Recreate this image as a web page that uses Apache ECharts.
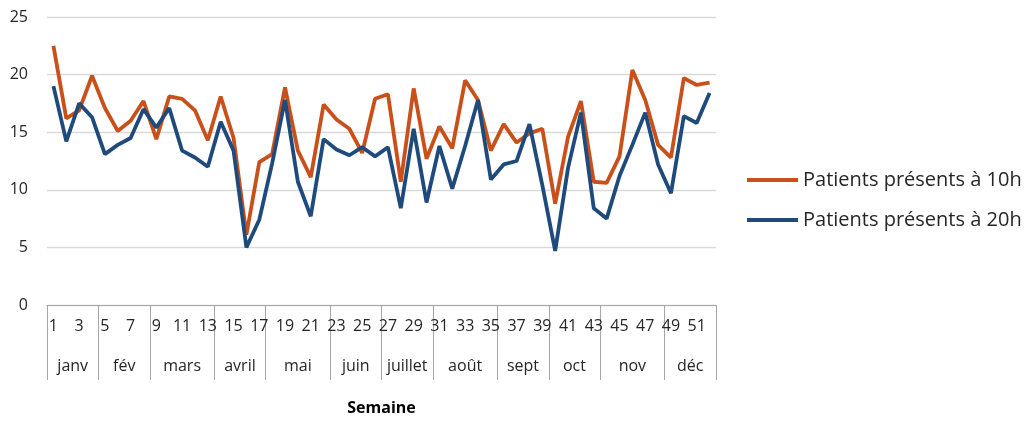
<!DOCTYPE html>
<html>
<head>
<meta charset="utf-8">
<script src="https://cdn.jsdelivr.net/npm/echarts@6/dist/echarts.min.js"></script>
<style>
  html, body { margin: 0; padding: 0; background: #ffffff; }
  #chart { width: 1030px; height: 421px; }
</style>
</head>
<body>
<div id="chart"></div>
<script>
// Week numbers 1..52
const weeks = ["1","2","3","4","5","6","7","8","9","10","11","12","13","14","15","16","17","18","19","20","21","22","23","24","25","26","27","28","29","30","31","32","33","34","35","36","37","38","39","40","41","42","43","44","45","46","47","48","49","50","51","52"];
// Month groups: names and number of weeks in each
const months = ["janv","fév","mars","avril","mai","juin","juillet","août","sept","oct","nov","déc"];
const monthWeekCounts = [4,4,5,4,5,4,4,5,4,4,5,4];
// Series values
const patients10h = [22.5,16.2,16.9,19.9,17.1,15.1,16.0,17.7,14.4,18.1,
  17.9,16.9,14.3,18.1,14.5,6.1,12.4,13.1,18.9,13.4,
  11.1,17.4,16.1,15.3,13.2,17.9,18.3,10.7,18.8,12.7,
  15.5,13.6,19.5,17.8,13.4,15.7,14.1,14.9,15.3,8.8,
  14.6,17.7,10.7,10.6,12.9,20.4,17.8,13.9,12.8,19.7,
  19.1,19.3];
const patients20h = [19.0,14.2,17.5,16.3,13.1,13.9,14.5,17.0,15.4,17.1,
  13.4,12.8,12.0,15.9,13.4,5.0,7.4,12.3,17.8,10.7,
  7.7,14.4,13.5,13.0,13.7,12.9,13.7,8.4,15.3,8.9,
  13.8,10.1,13.8,17.8,10.9,12.2,12.5,15.7,10.4,4.7,
  11.9,16.7,8.4,7.5,11.2,13.9,16.7,12.2,9.7,16.4,
  15.8,18.4];
const seriesNames = ["Patients présents à 10h","Patients présents à 20h"];
const xAxisTitle = "Semaine";

// Build group boundaries and midpoints from month week counts
const boundaries = [0];
monthWeekCounts.forEach(c => boundaries.push(boundaries[boundaries.length - 1] + c));
const mids = months.map((m, i) => (boundaries[i] + boundaries[i + 1]) / 2);

const FONT = "Open Sans";
const chart = echarts.init(document.getElementById('chart'), null, { renderer: 'canvas' });
chart.setOption({
  animation: false,
  textStyle: { fontFamily: FONT },
  grid: { left: 47, right: 314, top: 17, bottom: 111, containLabel: false },
  legend: {
    orient: 'vertical',
    left: 742,
    top: 165,
    itemWidth: 51,
    itemHeight: 4,
    itemGap: 20,
    icon: 'rect',
    textStyle: { fontFamily: FONT, fontSize: 20, color: '#262626' },
    data: seriesNames
  },
  xAxis: [
    {
      type: 'category',
      data: weeks,
      boundaryGap: true,
      axisLine: { show: true, lineStyle: { color: '#a6a6a6', width: 1 } },
      axisTick: { show: false },
      axisLabel: { interval: 1, fontFamily: FONT, fontSize: 16, color: '#262626', margin: 13 },
      splitLine: { show: false },
      name: xAxisTitle,
      nameLocation: 'middle',
      nameGap: 95,
      nameTextStyle: { fontFamily: FONT, fontSize: 16, fontWeight: 'bold', color: '#000' }
    },
    {
      type: 'value',
      position: 'bottom',
      min: 0,
      max: 52,
      axisLine: { show: false },
      axisTick: { show: true, customValues: boundaries, length: 75, lineStyle: { color: '#a6a6a6', width: 1 } },
      axisLabel: {
        show: true,
        customValues: mids,
        margin: 53,
        fontFamily: FONT,
        fontSize: 16,
        color: '#262626',
        formatter: v => months[mids.indexOf(v)]
      },
      splitLine: { show: false }
    }
  ],
  yAxis: {
    type: 'value',
    min: 0,
    max: 25,
    interval: 5,
    axisLine: { show: false },
    axisTick: { show: false },
    axisLabel: { fontFamily: FONT, fontSize: 16, color: '#262626', margin: 19 },
    splitLine: { show: true, lineStyle: { color: '#d9d9d9', width: 1.3 } }
  },
  series: [
    {
      name: seriesNames[0],
      type: 'line',
      data: patients10h,
      xAxisIndex: 0,
      symbol: 'none',
      lineStyle: { color: '#C9501A', width: 3.8 },
      itemStyle: { color: '#C9501A' }
    },
    {
      name: seriesNames[1],
      type: 'line',
      data: patients20h,
      xAxisIndex: 0,
      symbol: 'none',
      lineStyle: { color: '#1F4A7C', width: 3.8 },
      itemStyle: { color: '#1F4A7C' }
    }
  ]
});
</script>
</body>
</html>
